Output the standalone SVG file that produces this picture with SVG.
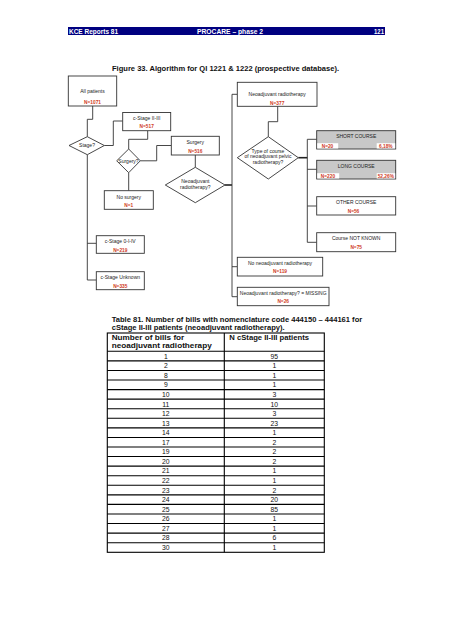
<svg xmlns="http://www.w3.org/2000/svg" width="452" height="640" viewBox="0 0 452 640">
<style>
.hd{font-family:"Liberation Sans",Arial,sans-serif;font-weight:bold;font-size:7px;fill:#fff}
.tt{font-family:"Liberation Sans",Arial,sans-serif;font-weight:bold;font-size:7.6px;fill:#111}
.bx{fill:#fff;stroke:#333;stroke-width:0.9}
.gb{fill:#c8c8c8;stroke:#333;stroke-width:0.9}
.t{font-family:"Liberation Sans",Arial,sans-serif;font-size:5px;fill:#222;text-anchor:middle}
.n{font-family:"Liberation Sans",Arial,sans-serif;font-size:4.8px;fill:#d03a24;text-anchor:middle;font-weight:bold}
.ln{fill:none;stroke:#333;stroke-width:0.9}
.th{fill:none;stroke:#222;stroke-width:1.6}
.tb{fill:none;stroke:#000;stroke-width:1.1}
.td{font-family:"Liberation Sans",Arial,sans-serif;font-size:6.8px;fill:#111;text-anchor:middle}
.tbh{font-family:"Liberation Sans",Arial,sans-serif;font-weight:bold;font-size:7px;fill:#111}
</style>
<rect x="0" y="0" width="452" height="640" fill="#fff"/>
<g id="header">
<rect x="68" y="27" width="317" height="8" fill="#000080"/>
<text class="hd" x="69" y="33.6" textLength="49" lengthAdjust="spacingAndGlyphs">KCE Reports 81</text>
<text class="hd" x="197" y="33.6" textLength="66" lengthAdjust="spacingAndGlyphs">PROCARE – phase 2</text>
<text class="hd" x="374" y="33.6" textLength="10" lengthAdjust="spacingAndGlyphs">121</text>
</g>
<text class="tt" x="112" y="70.5" textLength="227" lengthAdjust="spacingAndGlyphs">Figure 33. Algorithm for QI 1221 &amp; 1222 (prospective database).</text>

<g id="connectors">
<polyline class="ln" points="92.7,106 92.7,119.3 87.3,119.3 87.3,136.7"/>
<polyline class="ln" points="104.3,145.5 113.3,145.5 113.3,121 122.7,121"/>
<polyline class="ln" points="147.7,130.7 147.7,139.3 128.7,139.3 128.7,149"/>
<polyline class="ln" points="140.3,160.8 156.7,160.8 156.7,145.5 171.3,145.5"/>
<line class="ln" x1="128.7" y1="172.7" x2="128.7" y2="190.7"/>
<line class="ln" x1="195.3" y1="155" x2="195.3" y2="167.3"/>
<polyline class="ln" points="87.3,154.7 87.3,280 96.3,280"/>
<line class="ln" x1="87.3" y1="243.3" x2="96.3" y2="243.3"/>
<line class="th" x1="225" y1="185" x2="232" y2="185"/>
<polyline class="ln" points="237.3,94.3 232,94.3 232,296.7 237.3,296.7"/>
<line class="ln" x1="232" y1="266.7" x2="237.3" y2="266.7"/>
<polyline class="ln" points="277.7,106.3 277.7,121.7 268.3,121.7 268.3,136.7"/>
<line class="th" x1="298.3" y1="157.7" x2="307.3" y2="157.7"/>
<polyline class="ln" points="316.7,139.3 307.3,139.3 307.3,242.3 316.7,242.3"/>
<line class="ln" x1="307.3" y1="169.3" x2="316.7" y2="169.3"/>
<line class="ln" x1="307.3" y1="206" x2="316.7" y2="206"/>
</g>

<g id="all-patients">
<rect class="bx" x="68.3" y="76" width="48.4" height="30"/>
<text class="t" x="92.5" y="92.5">All patients</text>
<text class="n" x="92.5" y="104">N=1071</text>
</g>
<g id="stage">
<polygon class="bx" points="87.3,136.7 104.3,145.5 87.3,154.7 69,145.5"/>
<text class="t" x="87" y="147.3">Stage?</text>
</g>
<g id="cstage-2-3">
<rect class="bx" x="122.7" y="112.5" width="48" height="18.2"/>
<text class="t" x="146.7" y="119.8">c-Stage II-III</text>
<text class="n" x="146.7" y="128.3">N=517</text>
</g>
<g id="surgery-q">
<polygon class="bx" points="128.7,149 140.3,160.8 128.7,172.7 116.7,160.8"/>
<text class="t" x="128.5" y="162.6">Surgery?</text>
</g>
<g id="surgery">
<rect class="bx" x="171.3" y="136.3" width="48" height="18.7"/>
<text class="t" x="195.3" y="143.8">Surgery</text>
<text class="n" x="195.3" y="152.8">N=516</text>
</g>
<g id="neo-q">
<polygon class="bx" points="195.3,167.3 225,185 195.3,202.7 165.3,185"/>
<text class="t" x="195.3" y="182.8">Neoadjuvant</text>
<text class="t" x="195.3" y="188.8">radiotherapy?</text>
</g>
<g id="no-surgery">
<rect class="bx" x="104.3" y="190.7" width="49" height="18.6"/>
<text class="t" x="128.8" y="198.5">No surgery</text>
<text class="n" x="128.8" y="207.2">N=1</text>
</g>
<g id="cstage-0-1-4">
<rect class="bx" x="96.3" y="235.7" width="48" height="17.6"/>
<text class="t" x="120.3" y="242.5">c-Stage 0-I-IV</text>
<text class="n" x="120.3" y="251.5">N=219</text>
</g>
<g id="cstage-unknown">
<rect class="bx" x="96.3" y="271.7" width="48" height="18"/>
<text class="t" x="120.3" y="279.2">c-Stage Unknown</text>
<text class="n" x="120.3" y="287.8">N=335</text>
</g>
<g id="neo-rt">
<rect class="bx" x="237.3" y="82.3" width="79.7" height="24"/>
<text class="t" x="277.2" y="95.5">Neoadjuvant radiotherapy</text>
<text class="n" x="277.2" y="105">N=377</text>
</g>
<g id="type-q">
<polygon class="bx" points="268.3,136.7 298.3,157.7 268.3,179 237.3,157.7"/>
<text class="t" x="268" y="152.7">Type of course</text>
<text class="t" x="268" y="158">of neoadjuvant pelvic</text>
<text class="t" x="268" y="163.5">radiotherapy?</text>
</g>
<g id="short-course">
<rect class="gb" x="316.7" y="130.7" width="79" height="18.3"/>
<text class="t" x="356.2" y="138">SHORT COURSE</text>
<rect x="317.2" y="143.2" width="21" height="5.3" fill="#fff"/>
<rect x="376.7" y="143.2" width="18.5" height="5.3" fill="#fff"/>
<text class="n" x="327.5" y="147.5">N=20</text>
<text class="n" x="385.8" y="147.5">6,18%</text>
</g>
<g id="long-course">
<rect class="gb" x="316.7" y="160.3" width="79" height="18.7"/>
<text class="t" x="356.2" y="167.8">LONG COURSE</text>
<rect x="317.2" y="173.2" width="22" height="5.3" fill="#fff"/>
<rect x="376.7" y="173.2" width="18.5" height="5.3" fill="#fff"/>
<text class="n" x="328" y="177.5">N=220</text>
<text class="n" x="385.8" y="177.5">52,26%</text>
</g>
<g id="other-course">
<rect class="bx" x="316.7" y="196.7" width="79" height="18.3"/>
<text class="t" x="356.2" y="204">OTHER COURSE</text>
<text class="n" x="353.5" y="212.8">N=56</text>
</g>
<g id="course-not-known">
<rect class="bx" x="316.7" y="232.7" width="79" height="19"/>
<text class="t" x="356.2" y="240.3">Course NOT KNOWN</text>
<text class="n" x="356.2" y="249">N=75</text>
</g>
<g id="no-neo">
<rect class="bx" x="237.3" y="257.3" width="85.4" height="18.7"/>
<text class="t" x="280" y="264.5">No neoadjuvant radiotherapy</text>
<text class="n" x="280" y="273.3">N=119</text>
</g>
<g id="neo-missing">
<rect class="bx" x="237.3" y="287.3" width="91.7" height="18.4"/>
<text class="t" x="283.2" y="295">Neoadjuvant radiotherapy? = MISSING</text>
<text class="n" x="283.2" y="303.3">N=26</text>
</g>

<g id="table">
<text class="tt" x="111.7" y="321.8" font-size="8" textLength="250.5" lengthAdjust="spacingAndGlyphs">Table 81. Number of bills with nomenclature code 444150 – 444161 for</text>
<text class="tt" x="111.7" y="330.4" font-size="8" textLength="173" lengthAdjust="spacingAndGlyphs">cStage II-III patients (neoadjuvant radiotherapy).</text>
<rect class="tb" x="107.3" y="333" width="217" height="219.3"/>
<line class="tb" x1="224.3" y1="333" x2="224.3" y2="552.3"/>
<text class="tbh" x="111.7" y="339.5" textLength="72.6" lengthAdjust="spacingAndGlyphs">Number of bills for</text>
<text class="tbh" x="111.7" y="348.4" textLength="100" lengthAdjust="spacingAndGlyphs">neoadjuvant radiotherapy</text>
<text class="tbh" x="229.3" y="339.5" textLength="79.7" lengthAdjust="spacingAndGlyphs">N cStage II-III patients</text>
<g class="tb">
<line x1="107.3" y1="351.3" x2="324.3" y2="351.3"/>
<line x1="107.3" y1="360.87" x2="324.3" y2="360.87"/>
<line x1="107.3" y1="370.44" x2="324.3" y2="370.44"/>
<line x1="107.3" y1="380.01" x2="324.3" y2="380.01"/>
<line x1="107.3" y1="389.58" x2="324.3" y2="389.58"/>
<line x1="107.3" y1="399.15" x2="324.3" y2="399.15"/>
<line x1="107.3" y1="408.72" x2="324.3" y2="408.72"/>
<line x1="107.3" y1="418.29" x2="324.3" y2="418.29"/>
<line x1="107.3" y1="427.86" x2="324.3" y2="427.86"/>
<line x1="107.3" y1="437.43" x2="324.3" y2="437.43"/>
<line x1="107.3" y1="447" x2="324.3" y2="447"/>
<line x1="107.3" y1="456.57" x2="324.3" y2="456.57"/>
<line x1="107.3" y1="466.14" x2="324.3" y2="466.14"/>
<line x1="107.3" y1="475.71" x2="324.3" y2="475.71"/>
<line x1="107.3" y1="485.28" x2="324.3" y2="485.28"/>
<line x1="107.3" y1="494.85" x2="324.3" y2="494.85"/>
<line x1="107.3" y1="504.42" x2="324.3" y2="504.42"/>
<line x1="107.3" y1="513.99" x2="324.3" y2="513.99"/>
<line x1="107.3" y1="523.56" x2="324.3" y2="523.56"/>
<line x1="107.3" y1="533.13" x2="324.3" y2="533.13"/>
<line x1="107.3" y1="542.7" x2="324.3" y2="542.7"/>
</g>
<g>
<text class="td" x="165.8" y="358.6">1</text><text class="td" x="274.3" y="358.6">95</text>
<text class="td" x="165.8" y="368.2">2</text><text class="td" x="274.3" y="368.2">1</text>
<text class="td" x="165.8" y="377.8">8</text><text class="td" x="274.3" y="377.8">1</text>
<text class="td" x="165.8" y="387.3">9</text><text class="td" x="274.3" y="387.3">1</text>
<text class="td" x="165.8" y="396.9">10</text><text class="td" x="274.3" y="396.9">3</text>
<text class="td" x="165.8" y="406.5">11</text><text class="td" x="274.3" y="406.5">10</text>
<text class="td" x="165.8" y="416">12</text><text class="td" x="274.3" y="416">3</text>
<text class="td" x="165.8" y="425.6">13</text><text class="td" x="274.3" y="425.6">23</text>
<text class="td" x="165.8" y="435.2">14</text><text class="td" x="274.3" y="435.2">1</text>
<text class="td" x="165.8" y="444.7">17</text><text class="td" x="274.3" y="444.7">2</text>
<text class="td" x="165.8" y="454.3">19</text><text class="td" x="274.3" y="454.3">2</text>
<text class="td" x="165.8" y="463.9">20</text><text class="td" x="274.3" y="463.9">2</text>
<text class="td" x="165.8" y="473.4">21</text><text class="td" x="274.3" y="473.4">1</text>
<text class="td" x="165.8" y="483">22</text><text class="td" x="274.3" y="483">1</text>
<text class="td" x="165.8" y="492.6">23</text><text class="td" x="274.3" y="492.6">2</text>
<text class="td" x="165.8" y="502.1">24</text><text class="td" x="274.3" y="502.1">20</text>
<text class="td" x="165.8" y="511.7">25</text><text class="td" x="274.3" y="511.7">85</text>
<text class="td" x="165.8" y="521.3">26</text><text class="td" x="274.3" y="521.3">1</text>
<text class="td" x="165.8" y="530.8">27</text><text class="td" x="274.3" y="530.8">1</text>
<text class="td" x="165.8" y="540.4">28</text><text class="td" x="274.3" y="540.4">6</text>
<text class="td" x="165.8" y="550">30</text><text class="td" x="274.3" y="550">1</text>
</g>
</g>
</svg>
